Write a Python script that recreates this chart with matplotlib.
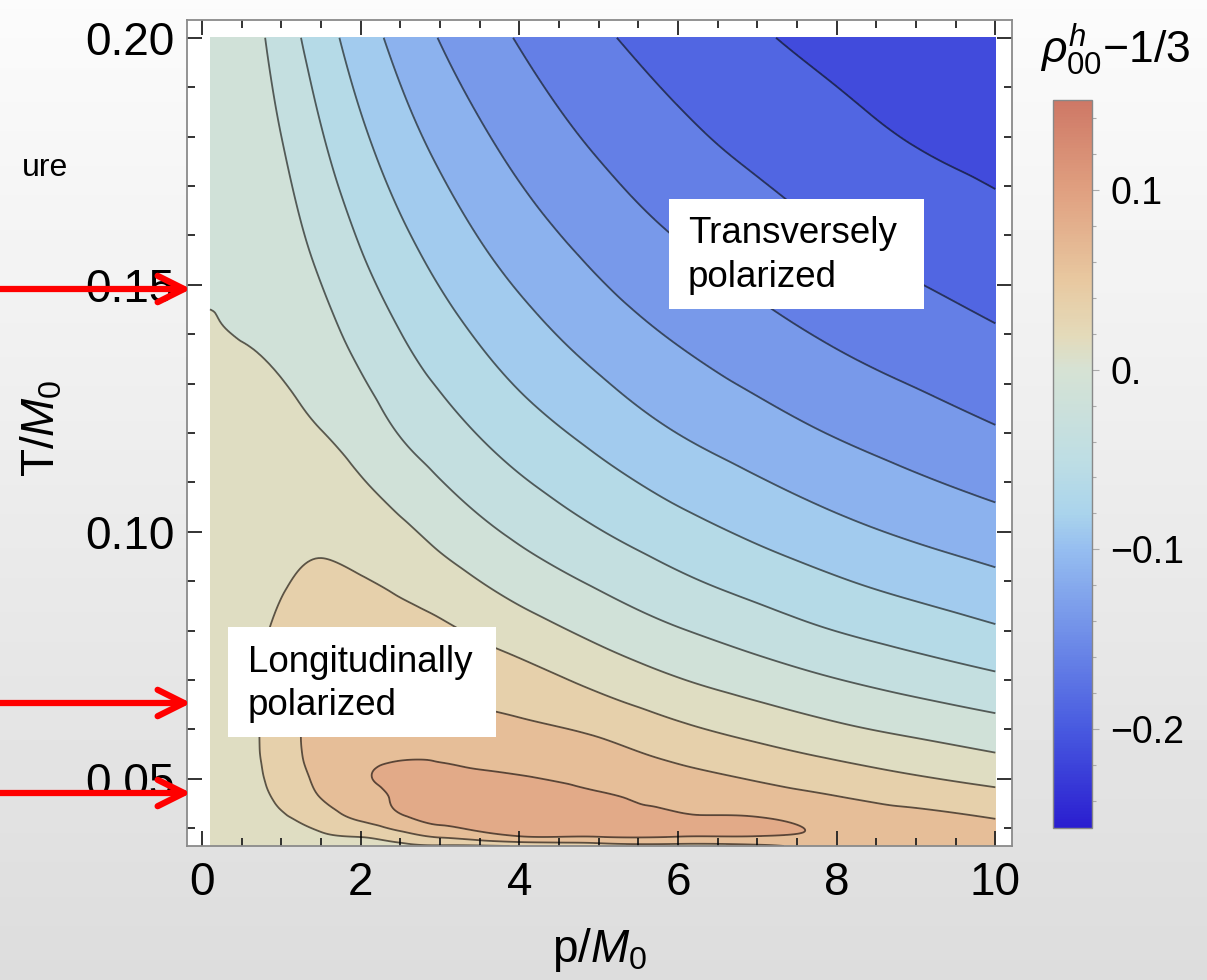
import numpy as np
import matplotlib
matplotlib.use('Agg')
import matplotlib.pyplot as plt
import matplotlib.tri as mtri
from matplotlib.colors import LinearSegmentedColormap, Normalize
from matplotlib.ticker import MultipleLocator, FormatStrFormatter, FixedLocator
from matplotlib.patches import Rectangle, FancyArrowPatch, ArrowStyle

plt.rcParams['font.family'] = ['Liberation Sans', 'DejaVu Sans']
plt.rcParams['mathtext.fontset'] = 'custom'
plt.rcParams['mathtext.rm'] = 'Liberation Sans'
plt.rcParams['mathtext.it'] = 'Liberation Sans:italic'

# =========================
# data: rho00 - 1/3 on a (T, p) grid
# =========================
p_vals = [0.1, 0.5, 1, 1.5, 2, 2.5, 3, 4, 5, 6, 7, 8, 9, 10]
T_vals = [0.0364, 0.0385, 0.042, 0.046, 0.05, 0.055, 0.06, 0.07, 0.08,
          0.09, 0.10, 0.12, 0.14, 0.16, 0.18, 0.20]

# one list per p column, ordered like T_vals
col_p0_1 = [0.002, 0.002, 0.002, 0.002, 0.002, 0.002, 0.002, 0.002, 0.002, 0.002, 0.0018, 0.0012, 0.0004, -0.0012, -0.002, -0.0025]
col_p0_5 = [0.003, 0.006, 0.009, 0.012, 0.014, 0.016, 0.016, 0.015, 0.013, 0.011, 0.008, 0.004, -0.0003, -0.004, -0.0075, -0.011]
col_p1 = [0.008, 0.014, 0.022, 0.029, 0.034, 0.037, 0.038, 0.036, 0.030, 0.0227, 0.0171, 0.006, -0.0047, -0.0149, -0.025, -0.0364]
col_p1_5 = [0.012, 0.022, 0.036, 0.05, 0.056, 0.06, 0.059, 0.047, 0.037, 0.029, 0.0199, 0.0006, -0.0166, -0.0329, -0.0483, -0.0633]
col_p2 = [0.016, 0.027, 0.054, 0.066, 0.072, 0.07, 0.064, 0.047, 0.0367, 0.0265, 0.0143, -0.0106, -0.0332, -0.0525, -0.0707, -0.0877]
col_p2_5 = [0.019, 0.04, 0.071, 0.078, 0.079, 0.0725, 0.0627, 0.0457, 0.0335, 0.0205, 0.0053, -0.0262, -0.0495, -0.0706, -0.0903, -0.1083]
col_p3 = [0.022, 0.055, 0.08, 0.082, 0.079, 0.0724, 0.0618, 0.0435, 0.029, 0.0112, -0.0074, -0.0389, -0.0642, -0.0866, -0.1072, -0.126]
col_p4 = [0.026, 0.077, 0.085, 0.083, 0.077, 0.0656, 0.0549, 0.0346, 0.0119, -0.0106, -0.0299, -0.0628, -0.0899, -0.1136, -0.1339, -0.1518]
col_p5 = [0.035, 0.078, 0.083, 0.077, 0.0683, 0.0575, 0.0458, 0.0182, -0.0069, -0.0288, -0.0488, -0.0824, -0.1109, -0.1344, -0.1544, -0.1715]
col_p6 = [0.04, 0.077, 0.079, 0.0693, 0.0584, 0.0445, 0.030, 0.0014, -0.0233, -0.0456, -0.0653, -0.1003, -0.1279, -0.151, -0.17, -0.1852]
col_p7 = [0.045, 0.076, 0.0765, 0.0608, 0.0484, 0.0324, 0.0168, -0.0118, -0.0371, -0.0597, -0.0799, -0.114, -0.1415, -0.1637, -0.182, -0.1976]
col_p8 = [0.062, 0.070, 0.064, 0.0517, 0.0378, 0.0208, 0.0045, -0.0242, -0.0504, -0.0728, -0.093, -0.1267, -0.1537, -0.1754, -0.1924, -0.207]
col_p9 = [0.066, 0.064, 0.0575, 0.0425, 0.0276, 0.0107, -0.0055, -0.035, -0.061, -0.084, -0.1043, -0.1373, -0.1634, -0.184, -0.2017, -0.2156]
col_p10 = [0.068, 0.062, 0.0496, 0.0337, 0.0187, 0.001, -0.0149, -0.045, -0.0718, -0.0943, -0.1141, -0.1476, -0.1726, -0.1923, -0.208, -0.222]

columns = [col_p0_1, col_p0_5, col_p1, col_p1_5, col_p2, col_p2_5, col_p3,
           col_p4, col_p5, col_p6, col_p7, col_p8, col_p9, col_p10]

line_levels = [-0.2, -0.175, -0.15, -0.125, -0.1, -0.075, -0.05, -0.025,
               0.0, 0.025, 0.05, 0.075]
fill_levels = [-0.25, -0.225] + line_levels + [0.1]

cbar_ticks = [-0.2, -0.1, 0.0, 0.1]
cbar_labels = ['\u22120.2', '\u22120.1', '0.', '0.1']

# colour stops sampled from the colour bar
cmap_vals = [-0.255, -0.2, -0.15, -0.1, -0.08, -0.05, 0.0, 0.02, 0.05, 0.1, 0.15]
cmap_cols = ['#2a1ed0', '#485ae0', '#6e8ce8', '#96bef0', '#aad4ec', '#bedee4',
             '#d6e2d4', '#e4dab9', '#e8c8a0', '#e0a080', '#ce7866']

# =========================
# figure
# =========================
W, H = 1207, 980
fig = plt.figure(figsize=(W / 100, H / 100), dpi=100)

# slide background gradient
bg = fig.add_axes([0, 0, 1, 1], zorder=-5)
grad = np.linspace(0.985, 0.865, 200).reshape(-1, 1)
bg.imshow(grad, cmap='gray', vmin=0, vmax=1, aspect='auto', extent=[0, 1, 0, 1])
bg.axis('off')

vmin, vmax = cmap_vals[0], cmap_vals[-1]
norm = Normalize(vmin=vmin, vmax=vmax)
cmap = LinearSegmentedColormap.from_list(
    'rho', [((v - vmin) / (vmax - vmin), c) for v, c in zip(cmap_vals, cmap_cols)])

ax = fig.add_axes([187 / W, 1 - 846 / H, (1012 - 187) / W, (846 - 20) / H])
ax.set_facecolor('white')

# smooth the grid with matplotlib's triangulation refiner in warped
# coordinates (contours are nearly straight there), then map back
P, T = np.meshgrid(p_vals, T_vals)
Z = np.array(columns).T
tri = mtri.Triangulation(np.log1p(P.ravel()), np.log(T.ravel()))
interp = mtri.CubicTriInterpolator(tri, Z.ravel(), kind='min_E')
refiner = mtri.UniformTriRefiner(tri)
tri_f, z_f = refiner.refine_field(Z.ravel(), triinterpolator=interp, subdiv=4)
tri_f = mtri.Triangulation(np.expm1(tri_f.x), np.exp(tri_f.y), tri_f.triangles)

ax.tricontourf(tri_f, z_f, levels=fill_levels, cmap=cmap, norm=norm)
ax.tricontour(tri_f, z_f, levels=line_levels, colors='black', alpha=0.6,
              linewidths=1.3, linestyles='solid')

ax.set_xlim(-0.19, 10.21)
ax.set_ylim(0.0364, 0.2036)
ax.xaxis.set_major_locator(MultipleLocator(2))
ax.xaxis.set_minor_locator(MultipleLocator(0.5))
ax.yaxis.set_major_locator(FixedLocator([0.05, 0.10, 0.15, 0.20]))
ax.yaxis.set_minor_locator(MultipleLocator(0.01))
ax.yaxis.set_major_formatter(FormatStrFormatter('%.2f'))
ax.tick_params(which='both', direction='in', top=True, right=True,
               color='#222222', width=1.3, labelsize=33)
ax.tick_params(which='major', length=11)
ax.tick_params(which='minor', length=6)
ax.tick_params(axis='y', pad=9)
ax.tick_params(axis='x', pad=11)
for s in ax.spines.values():
    s.set_color('#8a8a8a')
    s.set_linewidth(1.3)

# colour bar
cax = fig.add_axes([1053 / W, 1 - 828 / H, (1092 - 1053) / W, (828 - 100) / H])
sm = plt.cm.ScalarMappable(norm=norm, cmap=cmap)
cb = fig.colorbar(sm, cax=cax)
cb.outline.set_edgecolor('#888888')
cb.outline.set_linewidth(1)
cb.set_ticks(cbar_ticks)
cb.set_ticklabels(cbar_labels)
cax.yaxis.set_minor_locator(MultipleLocator(0.02))
cax.tick_params(which='both', color='#aaaaaa', width=0.8, labelsize=27, pad=8)
cax.tick_params(which='major', length=5)
cax.tick_params(which='minor', length=3)

# overlay in pixel coordinates for labels, boxes and arrows
ov = fig.add_axes([0, 0, 1, 1], zorder=10)
ov.set_xlim(0, W)
ov.set_ylim(H, 0)
ov.axis('off')
ov.patch.set_alpha(0)

ov.text(600, 950, r'p/$M_0$', fontsize=33, ha='center', va='center')
ov.text(42, 428, r'T/$M_0$', fontsize=33, ha='center', va='center', rotation=90)
ov.text(1115, 50, r'$\rho^{h}_{00}$' + '\u22121/3', fontsize=32, ha='center', va='center')
ov.text(22, 176, 'ure', fontsize=23, ha='left', va='baseline')

ov.add_patch(Rectangle((669, 199), 255, 110, facecolor='white', edgecolor='none'))
ov.text(688, 243, 'Transversely', fontsize=26.5, va='baseline')
ov.text(688, 287, 'polarized', fontsize=26.5, va='baseline')

ov.add_patch(Rectangle((228, 627), 268, 110, facecolor='white', edgecolor='none'))
ov.text(248, 672, 'Longitudinally', fontsize=26.5, va='baseline')
ov.text(248, 715, 'polarized', fontsize=26.5, va='baseline')

for y in [289, 703, 793]:
    arr = FancyArrowPatch((-10, y), (191, y),
                          arrowstyle=ArrowStyle('->', head_length=19, head_width=9.5),
                          mutation_scale=1, color='#ff0000', lw=4.5,
                          shrinkA=0, shrinkB=0, capstyle='round', joinstyle='round')
    ov.add_patch(arr)

fig.savefig('out.png', dpi=100)
